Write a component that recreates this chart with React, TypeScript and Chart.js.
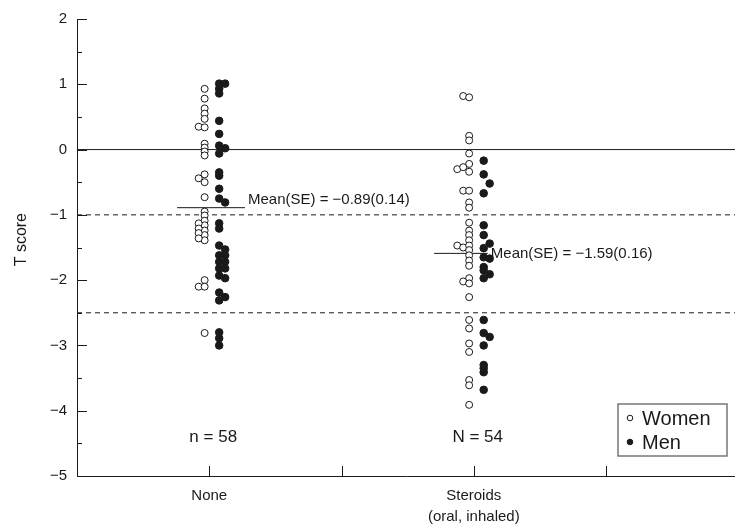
import React, { useEffect, useRef } from "react";
import { Chart, registerables } from "chart.js";

Chart.register(...registerables);

// ---- data ----
const groupNames = ["None", "Steroids"];
const groupSubtitles = ["", "(oral, inhaled)"];
const groupPositions = [1, 3];
const groupCounts = ["n = 58", "N = 54"];
const groupMeans = [-0.89, -1.59];
const groupSE = [0.14, 0.16];
const seriesNames = ["Women", "Men"];
const yAxisTitle = "T score";

const xTickMarks = [1, 2, 3, 4];
const yTickValues = [2, 1, 0, -1, -2, -3, -4, -5];
const referenceLines = [0, -1, -2.5];

// None, women: T scores and column (0 = main column, 1,2 = displaced outward)
const noneWomenT = [0.93, 0.78, 0.63, 0.55, 0.47, 0.35, 0.34, 0.09, 0.03, -0.03, -0.09, -0.38, -0.44, -0.5, -0.73, -0.95, -1.01, -1.09, -1.16, -1.24, -1.31, -1.39, -1.13, -1.21, -1.28, -1.36, -2.0, -2.1, -2.1, -2.81];
const noneWomenCol = [0, 0, 0, 0, 0, 1, 0, 0, 0, 0, 0, 0, 1, 0, 0, 0, 0, 0, 0, 0, 0, 0, 1, 1, 1, 1, 0, 1, 0, 0];
// None, men
const noneMenT = [1.01, 1.01, 0.93, 0.86, 0.44, 0.24, 0.06, 0.02, -0.06, -0.35, -0.4, -0.6, -0.75, -0.81, -1.13, -1.21, -1.47, -1.53, -1.62, -1.62, -1.72, -1.72, -1.82, -1.82, -1.93, -1.97, -2.19, -2.26, -2.31, -2.8, -2.89, -3.0];
const noneMenCol = [0, 1, 0, 0, 0, 0, 0, 1, 0, 0, 0, 0, 0, 1, 0, 0, 0, 1, 0, 1, 0, 1, 0, 1, 0, 1, 0, 1, 0, 0, 0, 0];
// Steroids, women
const sterWomenT = [0.82, 0.8, 0.21, 0.14, -0.06, -0.22, -0.3, -0.27, -0.34, -0.63, -0.63, -0.81, -0.89, -1.12, -1.24, -1.31, -1.39, -1.47, -1.5, -1.47, -1.54, -1.62, -1.7, -1.78, -1.97, -2.02, -2.05, -2.26, -2.61, -2.74, -2.97, -3.1, -3.53, -3.61, -3.91];
const sterWomenCol = [1, 0, 0, 0, 0, 0, 2, 1, 0, 1, 0, 0, 0, 0, 0, 0, 0, 2, 1, 0, 0, 0, 0, 0, 0, 1, 0, 0, 0, 0, 0, 0, 0, 0, 0];
// Steroids, men
const sterMenT = [-0.17, -0.38, -0.52, -0.67, -1.16, -1.31, -1.44, -1.51, -1.65, -1.67, -1.8, -1.85, -1.91, -1.97, -2.61, -2.81, -2.87, -3.0, -3.3, -3.35, -3.41, -3.68];
const sterMenCol = [0, 0, 1, 0, 0, 0, 1, 0, 0, 1, 0, 0, 1, 0, 0, 0, 1, 0, 0, 0, 0, 0];

// ---- layout / style constants ----
const FONT = "'Liberation Sans', Arial, Helvetica, sans-serif";
const INK = "#1a1a1a";
const X_MAX = 4.975;
const WOMEN_OFFSET = -0.035;
const MEN_OFFSET = 0.075;
const COL_STEP = 0.045;
const MEAN_SPAN: [number, number][] = [
  [0.757, 1.27],
  [2.7, 3.106],
];
const MEAN_LABEL_DY = [-8, 0];

const fmtNum = (v: number, d: number) => v.toFixed(d).replace("-", "\u2212");

function makePoints(pos: number, base: number, dir: number, t: number[], col: number[]) {
  return t.map((v, i) => ({ x: pos + base + dir * col[i] * COL_STEP, y: v }));
}

const annotate = {
  id: "annotate",
  afterDraw(chart: any) {
    const { ctx, chartArea, scales } = chart;
    const xs = scales.x;
    const ys = scales.y;
    ctx.save();
    ctx.strokeStyle = INK;
    ctx.lineWidth = 1;
    // inward y ticks
    for (let v = -5; v <= 2; v += 0.5) {
      const py = Math.round(ys.getPixelForValue(v)) + 0.5;
      const len = Number.isInteger(v) ? 10 : 5;
      ctx.beginPath();
      ctx.moveTo(chartArea.left, py);
      ctx.lineTo(chartArea.left + len, py);
      ctx.stroke();
    }
    // inward x ticks
    xTickMarks.forEach((v) => {
      const px = Math.round(xs.getPixelForValue(v)) + 0.5;
      ctx.beginPath();
      ctx.moveTo(px, chartArea.bottom);
      ctx.lineTo(px, chartArea.bottom - 10);
      ctx.stroke();
    });
    // y axis title
    ctx.fillStyle = INK;
    ctx.font = `16px ${FONT}`;
    ctx.textAlign = "center";
    ctx.textBaseline = "middle";
    ctx.save();
    ctx.translate(22, ys.getPixelForValue(-1.38));
    ctx.rotate(-Math.PI / 2);
    ctx.fillText(yAxisTitle, 0, 0);
    ctx.restore();
    // mean labels
    ctx.font = `15px ${FONT}`;
    ctx.textAlign = "left";
    ctx.textBaseline = "middle";
    groupMeans.forEach((m, i) => {
      const px = xs.getPixelForValue(MEAN_SPAN[i][1]) + 3;
      const py = ys.getPixelForValue(m) + MEAN_LABEL_DY[i];
      ctx.fillText(`Mean(SE) = ${fmtNum(m, 2)}(${fmtNum(groupSE[i], 2)})`, px, py);
    });
    // counts
    ctx.font = `17px ${FONT}`;
    ctx.textAlign = "center";
    groupCounts.forEach((c, i) => {
      ctx.fillText(c, xs.getPixelForValue(groupPositions[i] + 0.03), ys.getPixelForValue(-4.4));
    });
    // legend box
    const bx = 618, by = 404, bw = 109, bh = 52;
    ctx.fillStyle = "#ffffff";
    ctx.fillRect(bx, by, bw, bh);
    ctx.strokeStyle = "#777";
    ctx.lineWidth = 1.5;
    ctx.strokeRect(bx, by, bw, bh);
    ctx.font = `20px ${FONT}`;
    ctx.textAlign = "left";
    ctx.textBaseline = "middle";
    seriesNames.forEach((name, i) => {
      const cy = by + 14 + i * 24;
      ctx.beginPath();
      ctx.arc(bx + 12, cy, 2.8, 0, Math.PI * 2);
      ctx.lineWidth = 1;
      ctx.strokeStyle = INK;
      ctx.fillStyle = i === 0 ? "#ffffff" : INK;
      ctx.fill();
      ctx.stroke();
      ctx.fillStyle = INK;
      ctx.fillText(name, bx + 24, cy + 1);
    });
    ctx.restore();
  },
};

export default function App() {
  const ref = useRef<HTMLCanvasElement | null>(null);
  useEffect(() => {
    if (!ref.current) return;
    Chart.defaults.font.family = FONT;
    const women = [
      ...makePoints(groupPositions[0], WOMEN_OFFSET, -1, noneWomenT, noneWomenCol),
      ...makePoints(groupPositions[1], WOMEN_OFFSET, -1, sterWomenT, sterWomenCol),
    ];
    const men = [
      ...makePoints(groupPositions[0], MEN_OFFSET, 1, noneMenT, noneMenCol),
      ...makePoints(groupPositions[1], MEN_OFFSET, 1, sterMenT, sterMenCol),
    ];
    const refSets = referenceLines.map((r) => ({
      label: "ref" + r,
      data: [
        { x: 0, y: r },
        { x: X_MAX, y: r },
      ],
      showLine: true,
      borderColor: INK,
      borderWidth: 1,
      borderDash: r === 0 ? [] : [5, 4],
      pointRadius: 0,
      order: 5,
    }));
    const meanSets = groupMeans.map((m, i) => ({
      label: "mean" + i,
      data: [
        { x: MEAN_SPAN[i][0], y: m },
        { x: MEAN_SPAN[i][1], y: m },
      ],
      showLine: true,
      borderColor: INK,
      borderWidth: 1,
      pointRadius: 0,
      order: 4,
    }));
    const chart = new Chart(ref.current, {
      type: "scatter",
      data: {
        datasets: [
          {
            label: seriesNames[0],
            data: women,
            pointRadius: 3.5,
            pointBackgroundColor: "#ffffff",
            pointBorderColor: INK,
            pointBorderWidth: 1,
            order: 1,
          },
          {
            label: seriesNames[1],
            data: men,
            pointRadius: 3.8,
            pointBackgroundColor: INK,
            pointBorderColor: INK,
            pointBorderWidth: 1,
            order: 1,
          },
          ...meanSets,
          ...refSets,
        ] as any,
      },
      options: {
        animation: false,
        responsive: false,
        layout: { autoPadding: false, padding: { top: 18, left: 0, right: 0, bottom: 0 } },
        plugins: { legend: { display: false }, tooltip: { enabled: false } },
        scales: {
          x: {
            type: "linear",
            min: 0,
            max: X_MAX,
            afterBuildTicks: (s: any) => {
              s.ticks = groupPositions.map((v) => ({ value: v }));
            },
            ticks: {
              autoSkip: false,
              maxRotation: 0,
              padding: 9,
              color: INK,
              font: { size: 15, lineHeight: 1.4 },
              callback: (v: any) => {
                const i = groupPositions.indexOf(Number(v));
                if (i < 0) return "";
                return groupSubtitles[i] ? [groupNames[i], groupSubtitles[i]] : groupNames[i];
              },
            },
            grid: { display: false, drawTicks: false },
            border: { display: true, color: INK, width: 1 },
            afterFit: (s: any) => {
              s.height = 53;
            },
          },
          y: {
            type: "linear",
            min: -5,
            max: 2,
            afterBuildTicks: (s: any) => {
              s.ticks = yTickValues.map((v) => ({ value: v }));
            },
            ticks: {
              padding: 10,
              color: INK,
              font: { size: 15 },
              callback: (v: any) => fmtNum(Number(v), 0),
            },
            grid: { display: false, drawTicks: false },
            border: { display: true, color: INK, width: 1 },
            title: { display: false },
            afterFit: (s: any) => {
              s.width = 77;
            },
          },
        },
      },
      plugins: [annotate],
    });
    return () => chart.destroy();
  }, []);
  return (
    <div style={{ position: "fixed", left: 0, top: 0, width: 735, height: 529, background: "#fff" }}>
      <canvas ref={ref} width={735} height={529} style={{ display: "block" }} />
    </div>
  );
}
